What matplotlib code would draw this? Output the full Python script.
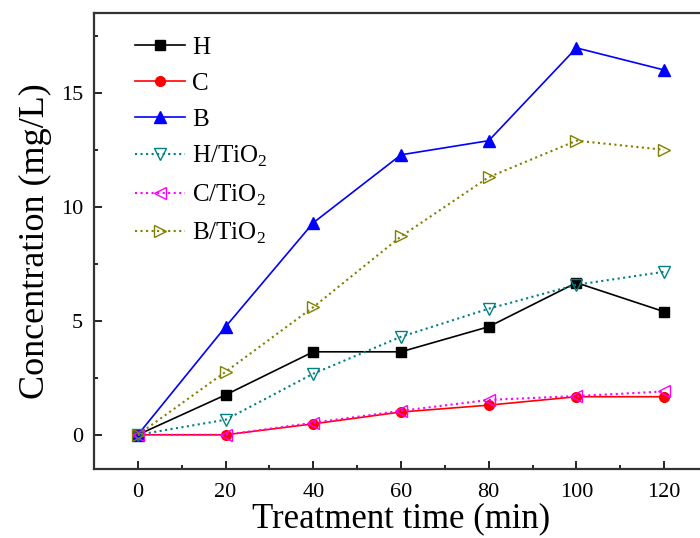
import matplotlib
matplotlib.use("Agg")
import matplotlib.pyplot as plt
from matplotlib.ticker import MultipleLocator

time = [0, 20, 40, 60, 80, 100, 120]
H = [0, 1.75, 3.64, 3.64, 4.74, 6.67, 5.4]
C = [0, 0, 0.48, 1.0, 1.3, 1.67, 1.67]
B = [0, 4.74, 9.3, 12.28, 12.9, 16.97, 16.0]
H_TiO2 = [0, 0.66, 2.68, 4.3, 5.53, 6.58, 7.15]
C_TiO2 = [0, 0, 0.53, 1.05, 1.53, 1.7, 1.9]
B_TiO2 = [0, 2.76, 5.6, 8.7, 11.3, 12.9, 12.5]

plt.rcParams['font.family'] = ['Liberation Serif', 'DejaVu Serif']
plt.rcParams['mathtext.fontset'] = 'custom'
plt.rcParams['mathtext.rm'] = 'Liberation Serif'

fig = plt.figure(figsize=(7.0, 5.38), dpi=100)
ax = fig.add_axes([94/700, 1-469/538, (708-94)/700, (469-13)/538])

ax.plot(time, H, color='black', marker='s', ms=7, lw=1.2, label='H')
ax.plot(time, C, color='red', marker='o', ms=7, lw=1.2, label='C')
ax.plot(time, B, color='blue', marker='^', ms=9, lw=1.2, label='B')
ax.plot(time, H_TiO2, color='#008080', marker='v', ms=9, lw=1.5, ls=':',
        mfc='none', label='H/TiO$_2$')
ax.plot(time, C_TiO2, color='magenta', marker='<', ms=9, lw=1.5, ls=':',
        mfc='none', label='C/TiO$_2$')
ax.plot(time, B_TiO2, color='#808000', marker='>', ms=9, lw=1.5, ls=':',
        mfc='none', label='B/TiO$_2$')

ax.set_xlim(-10, 130)
ax.set_ylim(-1.5, 18.5)
ax.xaxis.set_major_locator(MultipleLocator(20))
ax.xaxis.set_minor_locator(MultipleLocator(10))
ax.yaxis.set_major_locator(MultipleLocator(5))
ax.yaxis.set_minor_locator(MultipleLocator(2.5))
ax.tick_params(which='both', direction='in', labelsize=16)
ax.tick_params(which='major', length=6, width=1.2)
ax.tick_params(which='minor', length=3, width=1.2)
ax.tick_params(axis='x', pad=10)
ax.tick_params(axis='y', pad=8)
for s in ax.spines.values():
    s.set_linewidth(1.6)
    s.set_color('#333333')

ax.set_xlabel('Treatment time (min)', fontsize=25, labelpad=0)
ax.set_ylabel('Concentration (mg/L)', fontsize=26, labelpad=6)

leg = ax.legend(loc='upper left', bbox_to_anchor=(0.05, 0.97), frameon=False,
                fontsize=18, handlelength=2.0, handletextpad=0.3,
                labelspacing=0.53, borderaxespad=0)

fig.savefig('out.png', dpi=100)
